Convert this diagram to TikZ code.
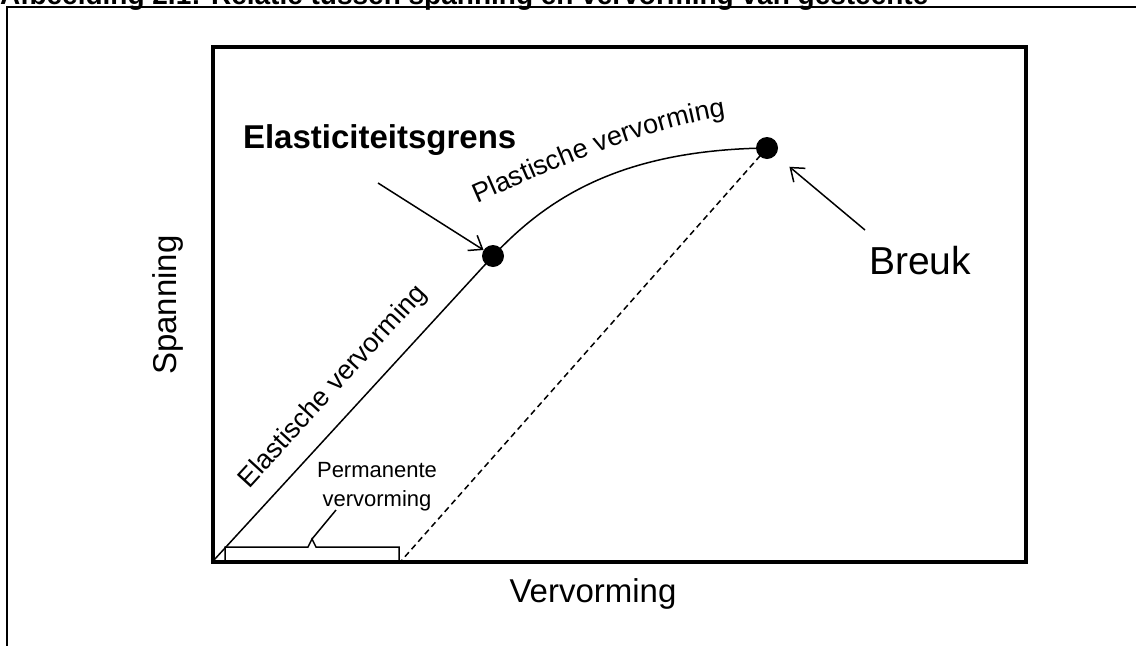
\documentclass[tikz,border=0pt]{standalone}
\usepackage{fontspec}
\setmainfont{Liberation Sans}
\usetikzlibrary{arrows.meta,decorations.text}
\begin{document}
\begin{tikzpicture}[x=1pt,y=-1pt,
  lbl/.style={inner sep=0pt, outer sep=0pt},
  thinline/.style={line width=1.5pt},
  ptr/.style={line width=1.5pt, -{Straight Barb[length=12pt,width=18pt,line width=1.5pt]}},
  blackdot/.style={circle, fill=black, minimum size=22pt, inner sep=0pt}]
\useasboundingbox (0,0) rectangle (1136,646);
\clip (0,0) rectangle (1136,646);
% title (cut off at the top)
\node[lbl, anchor=base west, font=\bfseries\fontsize{28}{28}\selectfont] (title) at (0,4) {Afbeelding 2.1: Relatie tussen spanning en vervorming van gesteente};
% outer frame
\draw[line width=1.5pt] (1136,7) -- (7,7) -- (7,646);
% plot box
\draw[line width=4pt] (213,47) rectangle (1026,562);
% points
\coordinate (O) at (214,560);
\coordinate (D) at (402,560);
\node[blackdot] (E) at (493,256) {};
\node[blackdot] (B) at (767,148) {};
\draw[thinline] (O) -- (E.center);
\draw[thinline] (E.center) .. controls (550,195) and (625,150) .. (B.center);
\draw[thinline, dash pattern=on 6pt off 4pt] (B.center) -- (D);
% brace
\coordinate (bl) at (225,560);
\coordinate (br) at (399,560);
\coordinate (bp) at (312,539);
\coordinate (lt) at (336,510);
\draw[thinline] (bl) -- (225,547) -- (308,547) -- (bp) -- (316,547) -- (399,547) -- (br);
\draw[thinline] (bp) -- (lt);
% labels
\node[lbl, align=center, font=\fontsize{22}{29}\selectfont] (pv) at (377,487) {Permanente\\vervorming};
\node[lbl, rotate=47.5, anchor=base west, font=\fontsize{27}{27}\selectfont] (ev) at (249,489) {Elastische vervorming};
\path[decorate, decoration={text along path, text={|\fontsize{27}{27}\selectfont|Plastische vervorming}, text align=left}]
  (477,203) .. controls (535,178) and (640,128) .. (730,116);
\node[lbl, anchor=base west, font=\bfseries\fontsize{33}{33}\selectfont] (elg) at (243,148) {Elasticiteitsgrens};
\coordinate (elgtail) at (378,183);
\draw[ptr] (elgtail) -- (E);
\node[lbl, anchor=base west, font=\fontsize{39}{39}\selectfont] (brk) at (869,274) {Breuk};
\coordinate (brtail) at (865,230);
\draw[ptr, shorten >=18pt] (brtail) -- (B);
\node[lbl, rotate=90, font=\fontsize{33}{33}\selectfont] (sp) at (168,305) {Spanning};
\node[lbl, anchor=base, font=\fontsize{33}{33}\selectfont] (vv) at (593,602) {Vervorming};
\end{tikzpicture}
\end{document}
